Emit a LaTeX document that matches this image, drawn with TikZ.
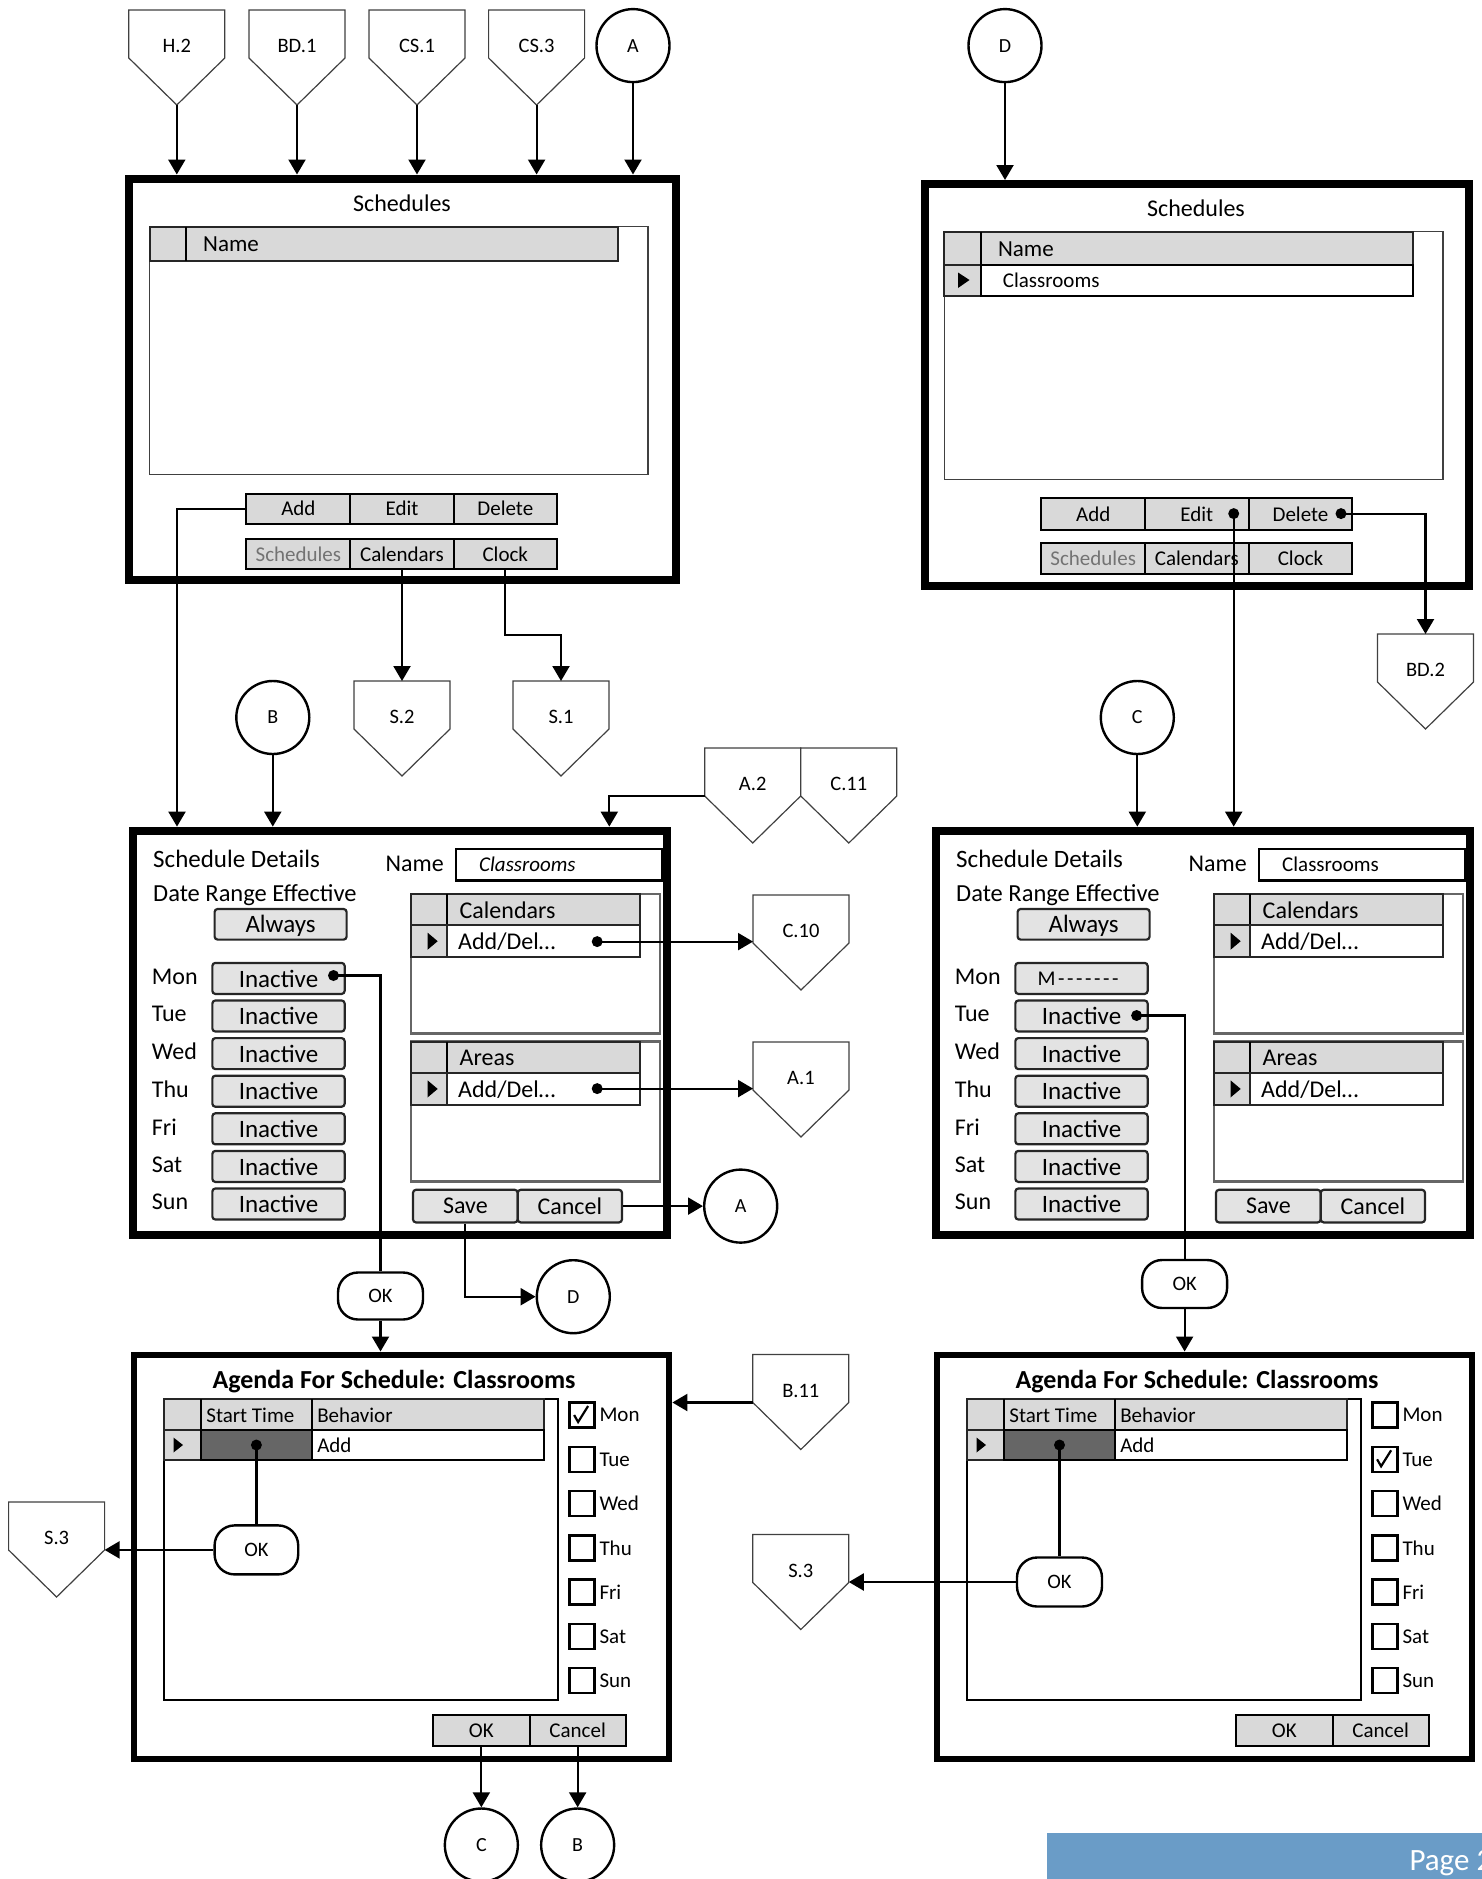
\documentclass[tikz,border=0pt]{standalone}
\usepackage{fontspec}
\setmainfont{Carlito}
\usetikzlibrary{arrows.meta}
\newcommand\fsz[1]{\fontsize{#1}{#1}\selectfont}
\newcommand\sdash{\hspace{2.6pt}-}
\definecolor{pagecol}{RGB}{106,156,199}
\tikzset{
  conn/.style={line width=2.2pt, -{Triangle[width=17pt,length=15pt]}},
  plainline/.style={line width=2.2pt},
  pentbox/.style={rectangle, minimum width=96pt, minimum height=48pt, inner sep=0pt, outer sep=0pt},
  pentline/.style={line width=1.2pt, draw=black!75, fill=white},
  pentlbl/.style={font=\fsz{20.5}, inner sep=0pt, text depth=0pt},
  conncirc/.style={circle, draw, line width=2.4pt, minimum size=73pt, inner sep=0pt, font=\fsz{20}, text depth=0pt, fill=white},
  winframe/.style={rectangle, draw, line width=8pt, inner sep=0pt},
  btn/.style={rectangle, draw, fill=black!15, line width=2pt, inner sep=0pt, font=\fsz{21}, text depth=0pt},
  pbtn/.style={rectangle, rounded corners=3pt, draw=black!85, fill=black!11, line width=2.2pt, inner sep=0pt, font=\fsz{25}, text depth=0pt},
  okpill/.style={rectangle, rounded corners=20pt, draw, line width=2.4pt, fill=white, inner sep=0pt, font=\fsz{20.5}, text depth=0pt},
  dotn/.style={circle, fill, inner sep=0pt, minimum size=11pt},
  hdr/.style={fill=black!15, draw=black!85, line width=2pt},
  txt/.style={inner sep=0pt, anchor=west, text depth=0pt},
  chk/.style={rectangle, draw, line width=2.4pt, minimum size=25pt, inner sep=0pt},
}
% off-page connector: name, centre x, top y, label
\newcommand\offpage[4]{%
  \node[pentbox] (#1) at (#2,#3+24) {};
  \draw[pentline] (#1.north west) -- (#1.north east) -- (#1.south east) -- ([yshift=-47pt]#1.south) -- (#1.south west) -- cycle;
  \coordinate (#1-tip) at ([yshift=-47pt]#1.south);
  \node[pentlbl] (#1-lbl) at ([yshift=-12pt]#1.center) {#4};
}
% grid inside the detail panel: name, top y, header text
\newcommand\dgrid[3]{%
  \draw[line width=2.5pt, draw=black!60] (411,#2) rectangle (660.2,#2+139.7);
  \draw[hdr] (411,#2) rectangle (639.8,#2+31.4);
  \draw[line width=2pt] (447,#2) -- (447,#2+31.4);
  \draw[hdr] (411,#2+31.4) rectangle (447,#2+63.2);
  \draw[line width=2pt, draw=black!85, fill=white] (447,#2+31.4) rectangle (639.8,#2+63.2);
  \fill (427.5,#2+38.7) -- (437.7,#2+47.3) -- (427.5,#2+55.9) -- cycle;
  \node[txt, font=\fsz{24}] (#1h) at (459.5,#2+15.9) {#3};
  \node[txt, font=\fsz{24}] (#1r) at (458,#2+47.7) {Add/Del…};
}
% schedule details panel: prefix, Mon button content, name field content
\newcommand\detailpanel[3]{%
  \node[winframe, minimum width=533.4pt, minimum height=404.4pt] (#1f) at (400,1032.8) {};
  \node[txt, font=\fsz{25}] (#1sd) at (153,859) {Schedule Details};
  \node[txt, font=\fsz{24.5}] (#1dr) at (153,893.5) {Date Range Effective};
  \node[pbtn, minimum width=132pt, minimum height=30.6pt] (#1alw) at (280.6,924.3) {Always};
  \node[txt, font=\fsz{24}] (#1nl) at (385.4,864) {Name};
  \node[rectangle, draw, line width=2.2pt, minimum width=206pt, minimum height=31.8pt, inner sep=0pt] (#1nf) at (558.6,864.5) {};
  \node[txt, font=\fsz{21}] (#1nt) at (479,864.5) {#3};
  \node[txt, font=\fsz{24}] (#1l1) at (151.7,976.4) {Mon};
  \node[pbtn, minimum width=132.3pt, minimum height=31pt] (#1d1) at (278.5,978.4) {#2};
  \foreach \dn/\yy [count=\cnt from 2] in {Tue/1016,Wed/1053.6,Thu/1091.2,Fri/1128.8,Sat/1166.4,Sun/1204} {
    \node[txt, font=\fsz{24}] (#1l\cnt) at (151.7,\yy-2) {\dn};
    \node[pbtn, minimum width=132.3pt, minimum height=31pt] (#1d\cnt) at (278.5,\yy) {Inactive};
  }
  \dgrid{#1cal}{893.9}{Calendars}
  \dgrid{#1area}{1041.6}{Areas}
  \node[pbtn, font=\fsz{24}, minimum width=104.7pt, minimum height=32.6pt] (#1save) at (465.35,1206.1) {Save};
  \node[pbtn, font=\fsz{24}, minimum width=104.3pt, minimum height=32.6pt] (#1can) at (569.85,1206.1) {Cancel};
}
% agenda panel: prefix, checked day index
\newcommand\agenda[2]{%
  \node[winframe, line width=6pt, minimum width=535.4pt, minimum height=404pt] (#1f) at (401.7,1556.5) {};
  \node[inner sep=0pt, text depth=0pt, font=\bfseries\fsz{26}] (#1t) at (394,1379.4) {Agenda For Schedule: Classrooms};
  \draw[line width=2.2pt] (164.2,1399) rectangle (558.3,1700);
  \draw[hdr] (164.2,1399) rectangle (543.7,1430);
  \draw[line width=2pt] (201,1399) -- (201,1430) (311.5,1399) -- (311.5,1430);
  \draw[hdr] (164.2,1430) rectangle (201,1460);
  \draw[line width=2pt, fill=black!60] (201,1430) rectangle (311.5,1460);
  \draw[line width=2pt, fill=white] (311.5,1430) rectangle (543.7,1460);
  \fill (173.5,1437.5) -- (183,1445) -- (173.5,1452.5) -- cycle;
  \node[txt, font=\fsz{21}] (#1st) at (206.2,1415.2) {Start Time};
  \node[txt, font=\fsz{21}] (#1bh) at (317.1,1415.2) {Behavior};
  \node[txt, font=\fsz{21}] (#1ad) at (317.1,1445.1) {Add};
  \foreach \dn/\yy [count=\cnt] in {Mon/1415,Tue/1459.3,Wed/1503.5,Thu/1547.8,Fri/1592,Sat/1636.3,Sun/1680.5} {
    \node[chk] (#1c\cnt) at (582.1,\yy) {};
    \node[txt, font=\fsz{21}] (#1cl\cnt) at (599.3,\yy) {\dn};
  }
  \draw[line width=2.2pt] ([xshift=-8pt]#1c#2.center) -- ++(4,7) -- ++(10,-16);
  \node[btn, minimum width=96.3pt, minimum height=30.3pt] (#1ok) at (481.35,1730.5) {OK};
  \node[btn, minimum width=96.3pt, minimum height=30.3pt] (#1can) at (577.65,1730.5) {Cancel};
}
\begin{document}
\begin{tikzpicture}[x=1pt,y=-1pt]
\useasboundingbox (0,0) rectangle (1482,1879);

% ---------- off-page connectors ----------
\offpage{h2}{176.8}{10}{H.2}
\offpage{bd1}{297}{10}{BD.1}
\offpage{cs1}{417}{10}{CS.1}
\offpage{cs3}{536.6}{10}{CS.3}
\offpage{s2}{402}{681}{S.2}
\offpage{s1}{561}{681}{S.1}
\offpage{a2}{752.7}{748}{A.2}
\offpage{c11}{848.8}{748}{C.11}
\offpage{c10}{801}{895}{C.10}
\offpage{a1}{801}{1042}{A.1}
\offpage{bd2}{1425.5}{634}{BD.2}
\offpage{b11}{800.8}{1354.5}{B.11}
\offpage{s3a}{56.6}{1502}{S.3}
\offpage{s3b}{800.8}{1534.5}{S.3}

% ---------- on-page connectors ----------
\node[conncirc] (cA1) at (633,45.6) {A};
\node[conncirc] (cD1) at (1005,45.6) {D};
\node[conncirc] (cB1) at (272.8,717.5) {B};
\node[conncirc] (cC1) at (1137.3,717.5) {C};
\node[conncirc] (cA2) at (740.7,1206.1) {A};
\node[conncirc] (cD2) at (573.3,1296.7) {D};
\node[conncirc] (cC2) at (481.35,1845) {C};
\node[conncirc] (cB2) at (577.65,1845) {B};

% ---------- top-left Schedules window ----------
\node[winframe, minimum width=547pt, minimum height=401.5pt] (f1) at (402,379.25) {};
\node[inner sep=0pt, text depth=0pt, font=\fsz{24}] (f1t) at (402,203) {Schedules};
\draw[line width=1.8pt, draw=black!75] (149.5,226.5) rectangle (648,474.5);
\draw[hdr] (149.5,226.5) rectangle (618,261);
\draw[line width=2pt] (185.7,226.5) -- (185.7,261);
\node[txt, font=\fsz{23}] (f1n) at (203,244) {Name};
\node[btn, minimum width=104pt, minimum height=30pt] (add1) at (298.4,508.6) {Add};
\node[btn, minimum width=103.2pt, minimum height=30pt] (edit1) at (402,508.6) {Edit};
\node[btn, minimum width=103.4pt, minimum height=30pt] (del1) at (505.3,508.6) {Delete};
\node[btn, minimum width=104pt, minimum height=30.5pt, text=black!55] (sch1) at (298.4,553.8) {Schedules};
\node[btn, minimum width=103.2pt, minimum height=30.5pt] (cal1) at (402,553.8) {Calendars};
\node[btn, minimum width=103.4pt, minimum height=30.5pt] (clk1) at (505.3,553.8) {Clock};

% ---------- top-right Schedules window ----------
\node[winframe, minimum width=544.5pt, minimum height=401.5pt] (f2) at (1196.75,384.75) {};
\node[inner sep=0pt, text depth=0pt, font=\fsz{24}] (f2t) at (1196,208) {Schedules};
\draw[line width=1.8pt, draw=black!75] (944.4,231.5) rectangle (1443,479.5);
\draw[hdr] (944.4,231.5) rectangle (1413,265);
\draw[line width=2pt] (980.8,231.5) -- (980.8,265);
\node[txt, font=\fsz{23}] (f2n) at (997.8,248.8) {Name};
\draw[hdr] (944.4,265) rectangle (980.8,295.5);
\draw[line width=2pt, fill=white] (980.8,265) rectangle (1413,295.5);
\fill (958,272.5) -- (969.5,280) -- (958,288) -- cycle;
\node[txt, font=\fsz{21}] (f2row) at (1002.7,280.5) {Classrooms};
\node[btn, minimum width=103.5pt, minimum height=31.7pt] (add2) at (1093.2,514.2) {Add};
\node[btn, minimum width=103.5pt, minimum height=31.7pt] (edit2) at (1196.8,514.2) {Edit};
\node[btn, minimum width=103.5pt, minimum height=31.7pt] (del2) at (1300.5,514.2) {Delete};
\node[btn, minimum width=103.5pt, minimum height=31.3pt, text=black!55] (sch2) at (1093.2,558.4) {Schedules};
\node[btn, minimum width=103.5pt, minimum height=31.3pt] (cal2) at (1196.8,558.4) {Calendars};
\node[btn, minimum width=103.5pt, minimum height=31.3pt] (clk2) at (1300.5,558.4) {Clock};
\node[dotn] (edot) at (1233.7,513.6) {};
\node[dotn] (ddot) at (1341,513.6) {};

% ---------- schedule details panels ----------
\detailpanel{L}{Inactive}{\itshape Classrooms}
\begin{scope}[xshift=803pt]
\detailpanel{R}{\makebox[88pt][l]{\fsz{21}M\sdash\sdash\sdash\sdash\sdash\sdash\sdash}}{Classrooms}
\end{scope}
\node[dotn] (mdot) at (333.5,975.5) {};
\node[dotn] (cdot) at (597.2,941.6) {};
\node[dotn] (adot) at (597.2,1088.6) {};
\node[dotn] (tdot) at (1136.6,1015.5) {};

\node[okpill, minimum width=85pt, minimum height=47pt] (ok1) at (380.5,1296) {OK};
\node[okpill, minimum width=85pt, minimum height=48pt] (ok2) at (1184.6,1284) {OK};

% ---------- agenda panels ----------
\agenda{P}{1}
\begin{scope}[xshift=803pt]
\agenda{Q}{2}
\end{scope}
\node[dotn] (sdot1) at (256.4,1445) {};
\node[dotn] (sdot2) at (1059.5,1445) {};
\node[okpill, minimum width=83.6pt, minimum height=49pt] (ok3) at (256.4,1549.9) {OK};
\node[okpill, minimum width=85pt, minimum height=49pt] (ok4) at (1059.5,1582) {OK};

% ---------- page tab ----------
\fill[pagecol] (1046.5,1833) rectangle (1495,1895);
\node[txt, font=\fsz{31}, text=white] (pg) at (1409.3,1860) {Page 2};

% ---------- helper coordinates ----------
\coordinate (addx) at (177,0);
\coordinate (a2x) at (609.3,0);

% ---------- connectors ----------
\foreach \p in {h2,bd1,cs1,cs3} \draw[conn] (\p-tip) -- (\p-tip |- f1.north);
\draw[conn] (cA1) -- (cA1 |- f1.north);
\draw[conn] (cD1) -- (cD1 |- f2.north);
\draw[conn] (cal1.south) -- (cal1.south |- s2.north);
\draw[conn] (clk1.south) -- ++(0,65) -| (s1.north);
\draw[conn] (add1.west) -| (addx |- Lf.north);
\draw[conn] (cB1) -- (cB1 |- Lf.north);
\draw[conn] (a2.south west) -| (a2x |- Lf.north);
\draw[conn] (cC1) -- (cC1 |- Rf.north);
\draw[conn] (edot.center) -- (edot |- Rf.north);
\draw[conn] (ddot.center) -| (bd2.north);

\draw[plainline] (mdot.center) -| (ok1.north);
\draw[conn] (ok1.south) -- (ok1.south |- Pf.north);
\draw[conn] (cdot.center) -- (cdot -| c10.west);
\draw[conn] (adot.center) -- (adot -| a1.west);
\draw[conn] (Lcan.east) -- (Lcan.east -| cA2.west);
\draw[conn] (Lsave.south) |- (cD2.west);

\draw[plainline] (tdot.center) -| (ok2.north);
\draw[conn] (ok2.south) -- (ok2.south |- Qf.north);

\draw[plainline] (sdot1.center) -- (ok3.north);
\draw[conn] (ok3.west) -- (ok3.west -| s3a.east);
\draw[conn] (b11.south west) -- (b11.south west -| Pf.east);
\draw[conn] (Pok.south) -- (Pok.south |- cC2.north);
\draw[conn] (Pcan.south) -- (Pcan.south |- cB2.north);

\draw[plainline] (sdot2.center) -- (ok4.north);
\draw[conn] (ok4.west) -- (ok4.west -| s3b.east);
\end{tikzpicture}
\end{document}
